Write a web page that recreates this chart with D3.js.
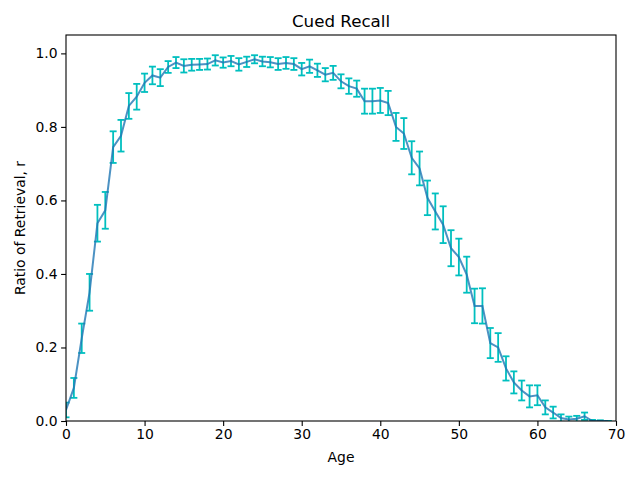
<!DOCTYPE html>
<html><head><meta charset="utf-8">
<script src="https://cdn.jsdelivr.net/npm/d3@7"></script>
<style>body{margin:0;background:#fff}svg{display:block;font-family:"DejaVu Sans",sans-serif}</style>
</head><body><svg id="c" width="640" height="480"></svg>
<script>
const ages = d3.range(0, 70);
const recall = [0.03,0.09,0.225,0.35,0.538,0.573,0.745,0.776,0.857,0.882,
0.92,0.94,0.934,0.963,0.975,0.966,0.969,0.970,0.971,0.981,
0.975,0.979,0.970,0.977,0.984,0.978,0.976,0.971,0.974,0.971,
0.957,0.965,0.954,0.942,0.947,0.924,0.911,0.904,0.870,0.870,
0.872,0.865,0.800,0.782,0.716,0.687,0.607,0.570,0.534,0.470,
0.446,0.398,0.313,0.313,0.212,0.200,0.143,0.105,0.083,0.067,
0.070,0.037,0.023,0.008,0.004,0.006,0.013,0.000,0.000,0.000];
const errs = [0.02,0.027,0.04,0.05,0.05,0.05,0.043,0.043,0.035,0.035,
0.025,0.024,0.023,0.016,0.015,0.018,0.016,0.015,0.015,0.014,
0.014,0.014,0.017,0.014,0.011,0.013,0.014,0.016,0.016,0.016,
0.017,0.018,0.018,0.018,0.019,0.019,0.021,0.022,0.034,0.034,
0.034,0.033,0.038,0.042,0.045,0.046,0.047,0.049,0.05,0.049,
0.05,0.049,0.047,0.048,0.041,0.039,0.033,0.03,0.027,0.03,
0.027,0.019,0.016,0.01,0.008,0.008,0.01,0.003,0.002,0.0];
const xTicks = [0,10,20,30,40,50,60,70];
const yTicks = [0,0.2,0.4,0.6,0.8,1.0];

const L=66,R=616,T=35,B=421;
const svg=d3.select("#c");
const x=d3.scaleLinear().domain([0,70]).range([L,R]);
const y=d3.scaleLinear().domain([0,1.05]).range([B,T]);

svg.append("defs").append("clipPath").attr("id","clip").append("rect")
  .attr("x",L).attr("y",T).attr("width",R-L).attr("height",B-T);
const g=svg.append("g").attr("clip-path","url(#clip)");

const data=ages.map((a,i)=>({a,v:recall[i],e:errs[i]}));
const eb=g.append("g").attr("stroke","#00bfbf").attr("stroke-width",1.8).attr("fill","none");
data.forEach(d=>{
  const xx=x(d.a);
  eb.append("line").attr("x1",xx).attr("x2",xx).attr("y1",y(d.v-d.e)).attr("y2",y(d.v+d.e));
  [d.v-d.e,d.v+d.e].forEach(v=>eb.append("line").attr("x1",xx-3.5).attr("x2",xx+3.5).attr("y1",y(v)).attr("y2",y(v)));
});
g.append("path").datum(data)
  .attr("d",d3.line().x(d=>x(d.a)).y(d=>y(d.v)))
  .attr("fill","none").attr("stroke","#1f77b4").attr("stroke-opacity",0.8).attr("stroke-width",2);

const xa=svg.append("g").attr("transform",`translate(0,${B})`)
  .call(d3.axisBottom(x).tickValues(xTicks).tickFormat(d3.format("d")).tickSize(4.9).tickPadding(3.5));
const ya=svg.append("g").attr("transform",`translate(${L},0)`)
  .call(d3.axisLeft(y).tickValues(yTicks).tickFormat(d3.format(".1f")).tickSize(4.9).tickPadding(3.5));
[xa,ya].forEach(a=>{a.select(".domain").remove();a.selectAll("text").attr("font-size",13.9).attr("fill","#000").attr("font-family","DejaVu Sans");a.selectAll("line").attr("stroke","#000").attr("stroke-width",1.1);});

svg.append("rect").attr("x",L).attr("y",T).attr("width",R-L).attr("height",B-T)
  .attr("fill","none").attr("stroke","#000").attr("stroke-width",1.1);

svg.append("text").attr("x",(L+R)/2).attr("y",27).attr("text-anchor","middle")
  .attr("font-size",16.7).text("Cued Recall");
svg.append("text").attr("x",(L+R)/2).attr("y",462).attr("text-anchor","middle")
  .attr("font-size",13.9).text("Age");
svg.append("text").attr("transform",`translate(25,${(T+B)/2}) rotate(-90)`).attr("text-anchor","middle")
  .attr("font-size",13.9).text("Ratio of Retrieval, r");
</script></body></html>
